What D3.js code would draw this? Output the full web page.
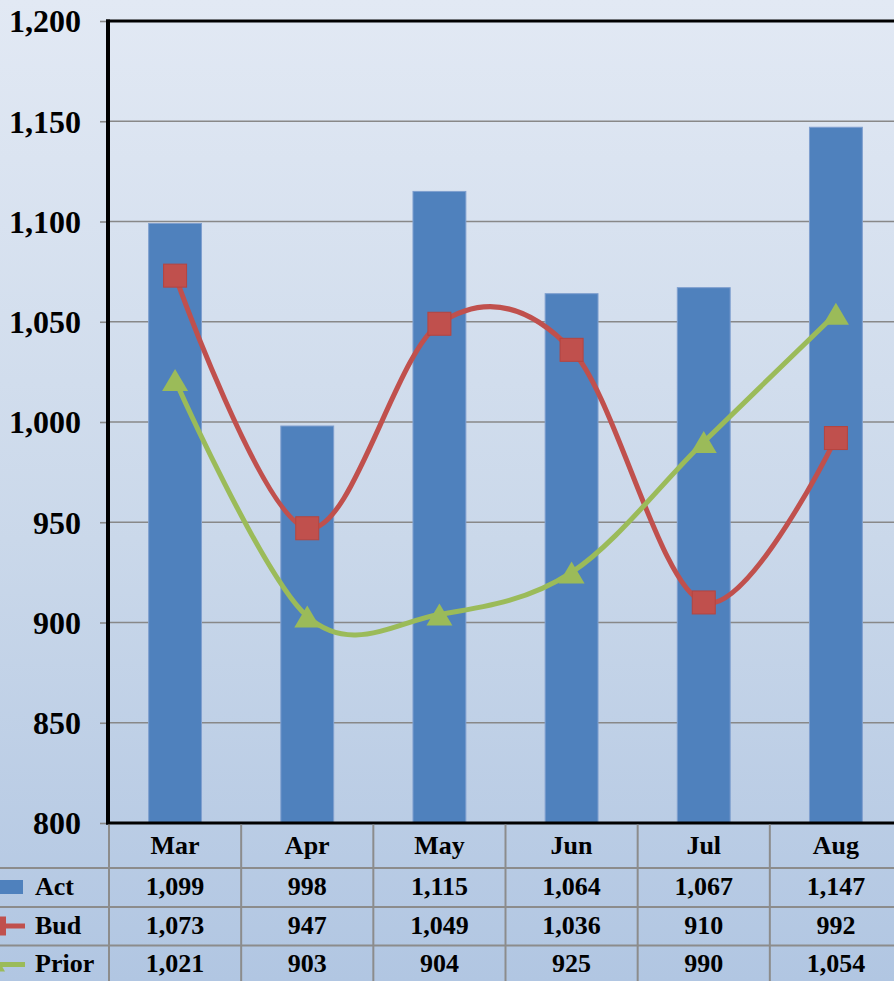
<!DOCTYPE html>
<html>
<head>
<meta charset="utf-8">
<script src="https://cdn.jsdelivr.net/npm/d3@7"></script>
<style>
  html, body { margin: 0; padding: 0; overflow: hidden; }
  body { width: 894px; height: 981px; }
  svg { display: block; }
  text { font-family: "Liberation Serif", "Times New Roman", serif; font-weight: bold; fill: #000; }
</style>
</head>
<body>
<svg id="chart" width="894" height="981"></svg>
<script>
// Monthly figures: actuals as columns, budget and prior year as smoothed lines
const months = ["Mar", "Apr", "May", "Jun", "Jul", "Aug"];
const actValues = [1099, 998, 1115, 1064, 1067, 1147];
const budValues = [1073, 947, 1049, 1036, 910, 992];
const priorValues = [1021, 903, 904, 925, 990, 1054];
const yTicks = [800, 850, 900, 950, 1000, 1050, 1100, 1150, 1200];
const seriesNames = ["Act", "Bud", "Prior"];

const colors = { act: "#4f81bd", actEdge: "#7f9fcf", bud: "#c0504d", prior: "#9bbb59" };
const fmt = d3.format(",");

const svg = d3.select("#chart");
const W = 894, H = 981;
const plot = { left: 109, right: 902, top: 21, bottom: 823 };

// background gradient
const defs = svg.append("defs");
const grad = defs.append("linearGradient").attr("id", "bg").attr("x1", 0).attr("y1", 0).attr("x2", 0).attr("y2", 1);
grad.append("stop").attr("offset", "0%").attr("stop-color", "#e2e9f4");
grad.append("stop").attr("offset", "55%").attr("stop-color", "#cad8ea");
grad.append("stop").attr("offset", "100%").attr("stop-color", "#b1c6e2");
svg.append("rect").attr("width", W).attr("height", H).attr("fill", "url(#bg)");

const x = d3.scaleBand().domain(months).range([plot.left, plot.right]).padding(0);
const y = d3.scaleLinear().domain([800, 1200]).range([plot.bottom, plot.top]);

// gridlines
svg.append("g").selectAll("line").data(yTicks.filter(t => t > 800 && t < 1200)).join("line")
  .attr("x1", plot.left).attr("x2", plot.right)
  .attr("y1", d => y(d)).attr("y2", d => y(d))
  .attr("stroke", "#888").attr("stroke-width", 1.6);

// y axis labels and tick marks
const yAxis = d3.axisLeft(y).tickValues(yTicks).tickFormat(fmt).tickSize(8).tickPadding(19);
const ya = svg.append("g").attr("transform", `translate(${plot.left - 1},0)`).call(yAxis);
ya.select(".domain").remove();
ya.selectAll(".tick line").attr("stroke", "#888").attr("stroke-width", 1.6);
ya.selectAll(".tick text").attr("font-size", 32).attr("font-family", "Liberation Serif, serif")
  .attr("font-weight", "bold").attr("fill", "#000").attr("dy", "0.34em");

// columns
const bw = x.bandwidth() * 0.4;
svg.append("g").selectAll("rect").data(actValues).join("rect")
  .attr("x", (d, i) => x(months[i]) + (x.bandwidth() - bw) / 2)
  .attr("y", d => y(d))
  .attr("width", bw)
  .attr("height", d => y(800) - y(d))
  .attr("fill", colors.act)
  .attr("stroke", colors.actEdge).attr("stroke-width", 1);

const cx = m => x(m) + x.bandwidth() / 2;
const line = d3.line().x((d, i) => cx(months[i])).y(d => y(d)).curve(d3.curveCardinal.tension(0));

// budget line + square markers
svg.append("path").datum(budValues).attr("d", line)
  .attr("fill", "none").attr("stroke", colors.bud).attr("stroke-width", 5).attr("stroke-linejoin", "round");
const sq = 23;
svg.append("g").selectAll("rect").data(budValues).join("rect")
  .attr("x", (d, i) => cx(months[i]) - sq / 2).attr("y", d => y(d) - sq / 2)
  .attr("width", sq).attr("height", sq).attr("fill", colors.bud)
  .attr("stroke", "#b6443f").attr("stroke-width", 1);

// prior-year line + triangle markers (box-centred on the point)
svg.append("path").datum(priorValues).attr("d", line)
  .attr("fill", "none").attr("stroke", colors.prior).attr("stroke-width", 5).attr("stroke-linejoin", "round");
const triPath = (w, h) => `M0,${-h / 2}L${w / 2},${h / 2}L${-w / 2},${h / 2}Z`;
svg.append("g").selectAll("path").data(priorValues).join("path")
  .attr("transform", (d, i) => `translate(${cx(months[i])},${y(d)})`)
  .attr("d", triPath(26, 22)).attr("fill", colors.prior);

// plot frame: left, top and bottom edges
svg.append("line").attr("x1", plot.left - 1).attr("x2", plot.left - 1).attr("y1", plot.top - 1.5).attr("y2", plot.bottom + 1.5)
  .attr("stroke", "#000").attr("stroke-width", 4);
svg.append("line").attr("x1", plot.left - 3).attr("x2", W).attr("y1", plot.top).attr("y2", plot.top)
  .attr("stroke", "#000").attr("stroke-width", 3.2);
svg.append("line").attr("x1", plot.left - 3).attr("x2", W).attr("y1", plot.bottom).attr("y2", plot.bottom)
  .attr("stroke", "#000").attr("stroke-width", 3.2);

// data table
const rowLines = [868, 907, 945.5];
const rowBase = [854, 895, 934, 972];
const table = svg.append("g");
table.selectAll("line.h").data(rowLines).join("line")
  .attr("x1", 0).attr("x2", W).attr("y1", d => d).attr("y2", d => d)
  .attr("stroke", "#8c8c8c").attr("stroke-width", 2);
const colEdges = months.map(m => x(m)).concat([plot.right]);
table.selectAll("line.v").data(colEdges).join("line")
  .attr("x1", d => d).attr("x2", d => d).attr("y1", plot.bottom + 1.5).attr("y2", H)
  .attr("stroke", "#8c8c8c").attr("stroke-width", 2);

table.selectAll("text.hdr").data(months).join("text")
  .attr("x", m => cx(m)).attr("y", rowBase[0]).attr("text-anchor", "middle")
  .attr("font-size", 26).text(m => m);

[actValues, budValues, priorValues].forEach((vals, r) => {
  table.append("g").selectAll("text").data(vals).join("text")
    .attr("x", (d, i) => cx(months[i])).attr("y", rowBase[r + 1]).attr("text-anchor", "middle")
    .attr("font-size", 26).text(d => fmt(d));
  table.append("text").attr("x", 35).attr("y", rowBase[r + 1]).attr("font-size", 26).text(seriesNames[r]);
});

// legend keys
table.append("rect").attr("x", 0).attr("y", 880).attr("width", 23).attr("height", 14).attr("fill", colors.act);
table.append("line").attr("x1", 0).attr("x2", 25).attr("y1", 926).attr("y2", 926)
  .attr("stroke", colors.bud).attr("stroke-width", 5);
table.append("rect").attr("x", -13).attr("y", 916.5).attr("width", 19).attr("height", 19).attr("fill", colors.bud);
table.append("line").attr("x1", 0).attr("x2", 25).attr("y1", 964.5).attr("y2", 964.5)
  .attr("stroke", colors.prior).attr("stroke-width", 5);
table.append("path").attr("transform", "translate(-6,962)").attr("d", triPath(22, 19)).attr("fill", colors.prior);
</script>
</body>
</html>
